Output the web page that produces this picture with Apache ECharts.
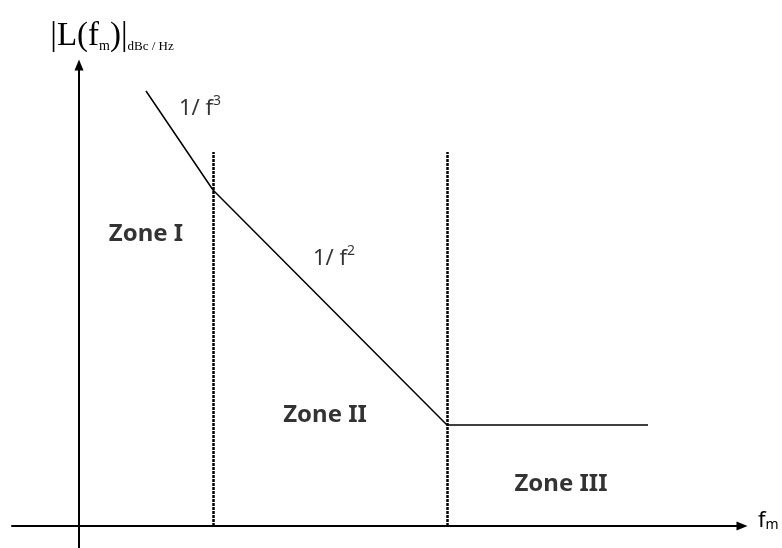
<!DOCTYPE html>
<html>
<head>
<meta charset="utf-8">
<script src="https://cdn.jsdelivr.net/npm/echarts@6/dist/echarts.min.js"></script>
<style>
  html, body { margin: 0; padding: 0; background: #fff; }
  #chart { width: 782px; height: 548px; }
</style>
</head>
<body>
<div id="chart"></div>
<script>
// asymptotic phase noise curve, break points (arbitrary units: log fm / dBc)
var noiseX = [67, 134, 368, 569];
var noiseY = [435, 336, 101, 101];

// borders between the zones (fm values) and how high the dotted lines go
var zoneBorders = [134, 368];
var borderTop = 374;

// text notes on the plot
var noteText = ['{n|1/ f}{s|3}', '{n|1/ f}{s|2}', 'Zone I', 'Zone II', 'Zone III'];
var noteX = [121, 255, 67, 246, 482];
var noteY = [419, 269, 292, 111, 42];

var sketchFont = "'Comic Sans MS', 'Noto Sans', sans-serif";

var myChart = echarts.init(document.getElementById('chart'));

var noiseData = noiseX.map(function (x, i) { return [x, noiseY[i]]; });
var borderLines = zoneBorders.map(function (x) {
    return [{ coord: [x, 0] }, { coord: [x, borderTop] }];
});
var notes = noteText.map(function (t, i) {
    var bold = t.indexOf('Zone') === 0;
    return {
        value: [noteX[i], noteY[i]],
        label: {
            formatter: t,
            fontWeight: bold ? 'bold' : 'normal',
            fontSize: bold ? 24 : 22
        }
    };
});

var axisLineStyle = { color: '#000', width: 2 };

var option = {
    animation: false,
    backgroundColor: '#fff',
    grid: { left: 12, right: 40, top: 65, bottom: 0 },
    xAxis: {
        type: 'value',
        min: -67,
        max: 663,
        name: '{f|f}{m|m}',
        nameLocation: 'end',
        nameGap: 16,
        nameTextStyle: {
            padding: [0, 0, 12, 0],
            rich: {
                f: { fontFamily: sketchFont, fontSize: 22, color: '#000', verticalAlign: 'bottom', lineHeight: 24 },
                m: { fontFamily: sketchFont, fontSize: 14, color: '#000', verticalAlign: 'bottom', lineHeight: 12 }
            }
        },
        axisLine: { onZero: true, lineStyle: axisLineStyle, symbol: ['none', 'triangle'], symbolSize: [9, 11] },
        axisTick: { show: false },
        axisLabel: { show: false },
        splitLine: { show: false }
    },
    yAxis: {
        type: 'value',
        min: -22,
        max: 461,
        name: '{b||L(f}{m|m}{b|)|}{u|dBc / Hz}',
        nameLocation: 'end',
        nameGap: 12,
        nameTextStyle: {
            align: 'center',
            padding: [0, 0, 0, 66],
            rich: {
                b: { fontFamily: 'Liberation Serif', fontSize: 33, color: '#000', verticalAlign: 'bottom', lineHeight: 42 },
                m: { fontFamily: 'Liberation Serif', fontSize: 14, color: '#000', verticalAlign: 'bottom', lineHeight: 19 },
                u: { fontFamily: 'Liberation Serif', fontSize: 13, color: '#000', verticalAlign: 'bottom', lineHeight: 9 }
            }
        },
        axisLine: { onZero: true, lineStyle: axisLineStyle, symbol: ['none', 'triangle'], symbolSize: [9, 11] },
        axisTick: { show: false },
        axisLabel: { show: false },
        splitLine: { show: false }
    },
    series: [
        {
            name: 'noise',
            type: 'line',
            data: noiseData,
            symbol: 'none',
            silent: true,
            lineStyle: { color: '#000', width: 1.5 },
            markLine: {
                silent: true,
                symbol: 'none',
                label: { show: false },
                lineStyle: { color: '#000', width: 2.5, type: [3, 1], opacity: 1 },
                data: borderLines
            }
        },
        {
            name: 'notes',
            type: 'scatter',
            data: notes,
            symbolSize: 0,
            silent: true,
            label: {
                show: true,
                position: 'inside',
                color: '#000',
                fontFamily: sketchFont,
                rich: {
                    n: { fontFamily: sketchFont, fontSize: 22, color: '#000', verticalAlign: 'bottom', lineHeight: 26 },
                    s: { fontFamily: sketchFont, fontSize: 14, color: '#000', verticalAlign: 'top', lineHeight: 16 }
                }
            }
        }
    ]
};

myChart.setOption(option);
</script>
</body>
</html>
